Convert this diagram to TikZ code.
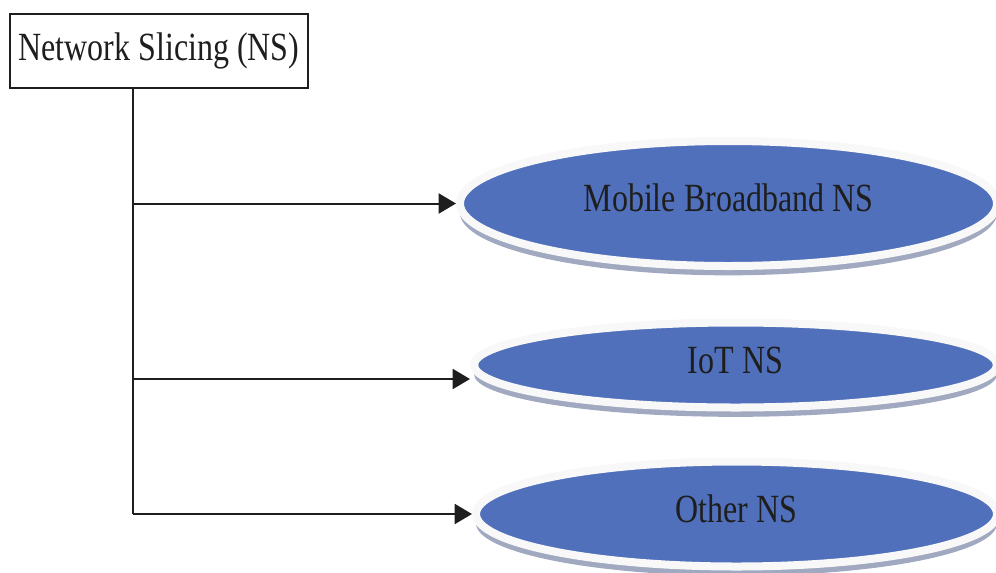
\documentclass[tikz,border=0pt]{standalone}
\usepackage{graphicx}
\usepackage{fontspec}
\setmainfont{Liberation Serif}
\usetikzlibrary{shapes.geometric, shadows, arrows.meta}

\definecolor{sliceblue}{RGB}{80,112,188}
\definecolor{sliceshadow}{RGB}{160,169,192}
\definecolor{ringgray}{RGB}{248,248,248}
\definecolor{inkgray}{RGB}{30,30,30}

\newcommand{\tallsc}[1]{\scalebox{1}[1.25]{#1}}

\tikzset{
    rootbox/.style={rectangle, draw=inkgray, line width=1.5pt, fill=white,
        minimum width=223.5pt, minimum height=55.5pt, inner sep=0pt,
        text=inkgray, font=\fontsize{24}{28}\selectfont},
    slice/.style={ellipse, fill=sliceblue, draw=ringgray, line width=6pt,
        inner sep=0pt, text=inkgray, font=\fontsize{24}{28}\selectfont,
        text height=20pt, text depth=7.5pt,
        drop shadow={shadow xshift=0pt, shadow yshift=-7pt,
            fill=sliceshadow, opacity=1}},
    link/.style={draw=inkgray, line width=1.5pt},
    arrowlink/.style={link, -{Triangle[length=13pt, width=15pt]}}
}

\begin{document}
\begin{tikzpicture}[x=0.75pt, y=-0.75pt]
    \useasboundingbox (0,0) rectangle (996,572);

    % Draw nodes
    \node[rootbox] (ns) at (159,51) {\tallsc{Network Slicing (NS)}};
    \node[slice, minimum width=402.75pt, minimum height=93.75pt] (mbb) at (728.5,203.5) {\tallsc{Mobile Broadband NS}};
    \node[slice, minimum width=392.25pt, minimum height=63.75pt] (iot) at (735.5,365) {\tallsc{IoT NS}};
    \node[slice, minimum width=390.75pt, minimum height=78.75pt] (other) at (736.5,514) {\tallsc{Other NS}};

    % Branch points on the spine
    \coordinate (b1) at (133,203.5);
    \coordinate (b2) at (133,379);
    \coordinate (b3) at (133,514);

    % Draw connections
    \draw[link] (ns.south -| b3) -- (b3);
    \draw[arrowlink] (b1) -- (mbb.west);
    \draw[arrowlink] (b2) -- (iot.west |- b2);
    \draw[arrowlink] (b3) -- (other.west);
\end{tikzpicture}
\end{document}
